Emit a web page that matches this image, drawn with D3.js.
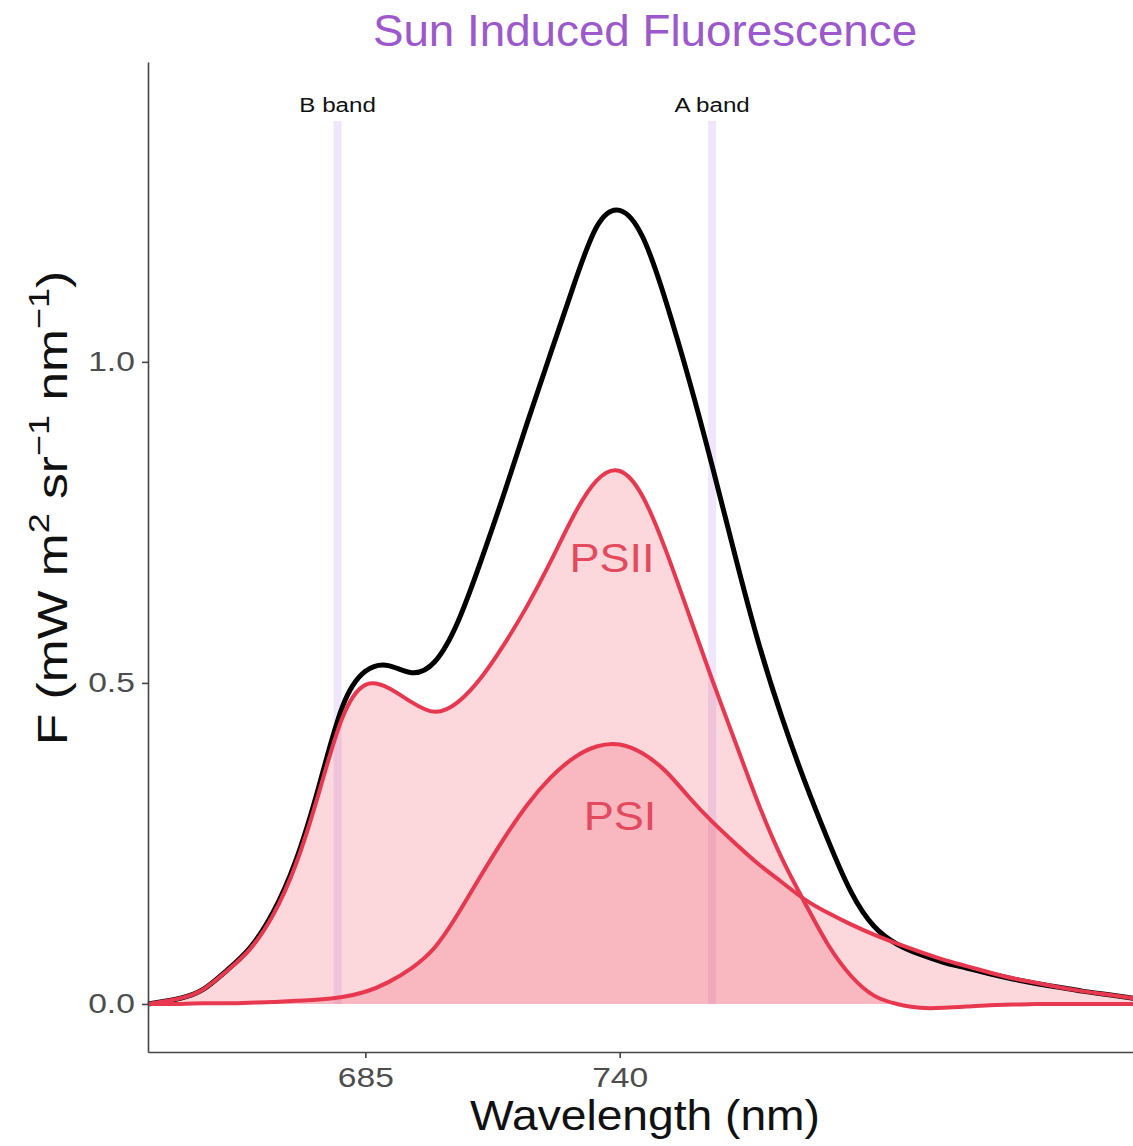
<!DOCTYPE html>
<head>
  <meta charset="utf-8">
  <script src="https://d3js.org/d3.v7.min.js"></script>
  <style>
    body { margin: 0; background: #fff; font-family: "Liberation Sans", Arial, sans-serif; }
    svg { display: block; }
    .axis path, .axis line { stroke: #444; stroke-width: 1.6px; }
    .axis text { fill: #4d4d4d; font-size: 28px; font-family: "Liberation Sans", Arial, sans-serif; }
  </style>
</head>
<body>
  <svg></svg>
  <script>
    // wavelength grid (nm) and the three curves
    var wavelength = [638, 645, 650, 655, 660, 665, 670, 675, 680, 685, 690, 695, 700, 705, 710,
      715, 720, 725, 730, 735, 740, 745, 750, 755, 760, 765, 770, 775, 780, 785, 790, 795,
      800, 805, 810, 815, 820, 825, 830, 835, 840, 845, 850, 851];
    var totalF = [0, 0.009, 0.023, 0.052, 0.087, 0.142, 0.224, 0.340, 0.462, 0.518, 0.527, 0.516,
      0.533, 0.595, 0.690, 0.795, 0.905, 1.012, 1.118, 1.210, 1.236, 1.194, 1.094, 0.972, 0.838,
      0.697, 0.563, 0.448, 0.347, 0.256, 0.175, 0.121, 0.093, 0.077, 0.065, 0.056, 0.047, 0.039,
      0.032, 0.026, 0.020, 0.015, 0.010, 0.009];
    var psii = [0, 0.009, 0.023, 0.051, 0.085, 0.138, 0.218, 0.330, 0.445, 0.497, 0.492, 0.470,
      0.455, 0.470, 0.508, 0.560, 0.620, 0.688, 0.760, 0.815, 0.830, 0.790, 0.706, 0.606, 0.505,
      0.408, 0.312, 0.228, 0.158, 0.093, 0.044, 0.013, 0.000, -0.006, -0.006, -0.004, -0.002,
      -0.001, 0, 0, 0, 0, 0, 0];
    var psi = [0, 0, 0.001, 0.001, 0.002, 0.003, 0.005, 0.007, 0.011, 0.019, 0.034, 0.056,
      0.088, 0.140, 0.200, 0.258, 0.310, 0.352, 0.383, 0.401, 0.404, 0.390, 0.362, 0.322, 0.284,
      0.250, 0.218, 0.190, 0.163, 0.142, 0.124, 0.108, 0.094, 0.081, 0.069, 0.059, 0.049, 0.040,
      0.033, 0.026, 0.020, 0.015, 0.010, 0.009];

    var bandWavelength = [679, 760];
    var bandLabels = ['B band', 'A band'];
    var bandTop = 1.375;

    var xTicks = [685, 740];
    var yTicks = [0, 0.5, 1.0];

    var width = 1133, height = 1146;
    var margin = {top: 62, right: 0, bottom: 94, left: 148};
    var red = '#e8384f';

    var svg = d3.select('svg')
      .attr('width', width)
      .attr('height', height);

    var x = d3.scaleLinear()
      .domain([638, 851])
      .range([margin.left, width - margin.right]);
    var y = d3.scaleLinear()
      .domain([-0.0748, 1.467])
      .range([height - margin.bottom, margin.top]);

    var series = function(vals) {
      return wavelength.map(function(w, i) { return {w: w, v: vals[i]}; });
    };

    var curve = d3.curveNatural;
    var line = d3.line()
      .x(function(d) { return x(d.w); })
      .y(function(d) { return y(d.v); })
      .curve(curve);
    var area = d3.area()
      .x(function(d) { return x(d.w); })
      .y0(y(0))
      .y1(function(d) { return y(d.v); })
      .curve(curve);

    // text that is a bit wider than the font, like the original export
    var label = function(parent, px, py, size, sx, fill, txt) {
      return parent.append('text')
        .attr('transform', 'translate(' + px + ',' + py + ')scale(' + sx + ',1)')
        .attr('text-anchor', 'middle')
        .attr('font-size', size)
        .attr('fill', fill)
        .text(txt);
    };

    var plot = svg.append('g');

    // absorption bands behind everything
    plot.selectAll('line.band')
      .data(bandWavelength).enter().append('line')
      .classed('band', true)
      .attr('x1', function(d) { return x(d); })
      .attr('x2', function(d) { return x(d); })
      .attr('y1', y(0))
      .attr('y2', y(bandTop))
      .attr('stroke', '#efe5fc')
      .attr('stroke-width', 8);

    bandWavelength.forEach(function(d, i) {
      label(plot, x(d), y(bandTop) - 9, 21, 1.15, '#111', bandLabels[i]);
    });

    // filled areas (semi transparent, overlap gets darker)
    [psii, psi].forEach(function(vals) {
      plot.append('path')
        .datum(series(vals))
        .attr('d', area)
        .attr('fill', '#ee3a4e')
        .attr('fill-opacity', 0.2);
    });

    plot.append('path')
      .datum(series(totalF))
      .attr('d', line)
      .attr('fill', 'none')
      .attr('stroke', '#000')
      .attr('stroke-width', 5);

    [psii, psi].forEach(function(vals) {
      plot.append('path')
        .datum(series(vals))
        .attr('d', line)
        .attr('fill', 'none')
        .attr('stroke', red)
        .attr('stroke-width', 4);
    });

    // curve labels
    label(plot, 612, 572, 41, 1.1, '#e34a5e', 'PSII');
    label(plot, 620, 830, 41, 1.1, '#e34a5e', 'PSI');

    // axes
    svg.append('g')
      .classed('axis', true)
      .attr('transform', 'translate(0,' + (height - margin.bottom) + ')')
      .call(d3.axisBottom(x).tickValues(xTicks).tickSize(6).tickPadding(8).tickSizeOuter(0))
      .call(function(g) {
        g.selectAll('text').attr('dy', '0.75em').attr('transform', 'scale(1.2,1)')
          .attr('x', 0);
      });

    svg.append('g')
      .classed('axis', true)
      .attr('transform', 'translate(' + margin.left + ',0)')
      .call(d3.axisLeft(y).tickValues(yTicks).tickFormat(d3.format('.1f'))
        .tickSize(6).tickPadding(5).tickSizeOuter(0))
      .call(function(g) {
        g.selectAll('text').attr('transform', 'scale(1.2,1)');
      });

    // titles
    label(svg, 645, 46, 44, 1.04, '#9c58cc', 'Sun Induced Fluorescence');
    label(svg, 645, 1130, 42, 1.1, '#111', 'Wavelength (nm)');

    var yTitle = svg.append('text')
      .attr('transform', 'translate(67,508)rotate(-90)scale(1.2,1)')
      .attr('text-anchor', 'middle')
      .attr('font-size', 43)
      .attr('fill', '#111');
    yTitle.append('tspan').text('F (mW m');
    yTitle.append('tspan').attr('dy', -18).attr('font-size', 30).text('2');
    yTitle.append('tspan').attr('dy', 18).text(' sr');
    yTitle.append('tspan').attr('dy', -18).attr('font-size', 30).text('\u22121');
    yTitle.append('tspan').attr('dy', 18).text(' nm');
    yTitle.append('tspan').attr('dy', -18).attr('font-size', 30).text('\u22121');
    yTitle.append('tspan').attr('dy', 18).text(')');
  </script>
</body>
